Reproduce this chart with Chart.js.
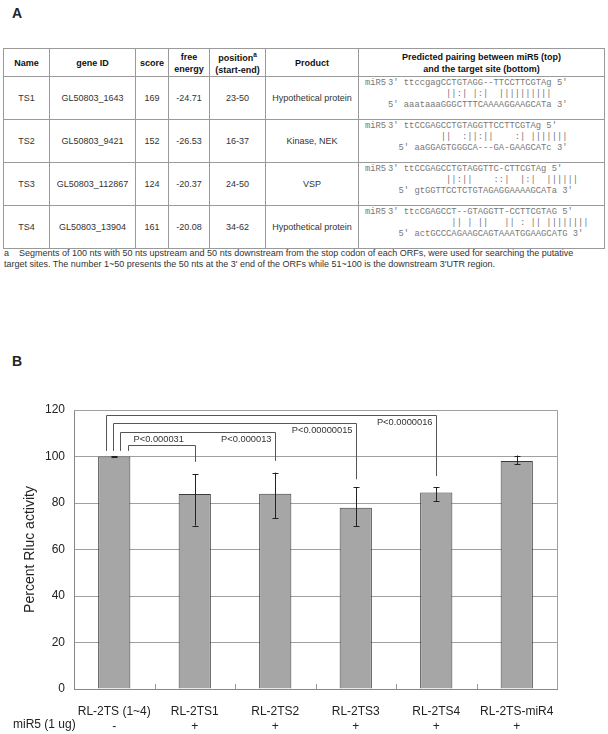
<!DOCTYPE html>
<html>
<head>
<meta charset="utf-8">
<script src="https://cdn.jsdelivr.net/npm/chart.js@4.4.1/dist/chart.umd.min.js"></script>
<style>
  html, body { margin: 0; padding: 0; background: #fff; }
  body { width: 608px; height: 734px; position: relative; overflow: hidden;
         font-family: "Liberation Sans", Arial, sans-serif; color: #222; }
  .panel { position: absolute; left: 12px; font-weight: bold; font-size: 14px; line-height: 14px; }
  #tbl { position: absolute; left: 3px; top: 48px; border-collapse: collapse; table-layout: fixed;
         width: 601px; font-size: 9px; }
  #tbl th, #tbl td { border: 1px solid #9a9a9a; text-align: center; padding: 0; vertical-align: middle; }
  #tbl th { height: 27px; line-height: 12px; font-weight: bold; color: #111; }
  #tbl td { height: 42px; color: #333; }
  #tbl td.pair { text-align: left; vertical-align: top; position: relative; }
  .seq { font-family: "Liberation Mono", "Courier New", monospace; font-size: 8.8px; color: #777;
         white-space: pre; line-height: 11px; padding-left: 29px; }
  .seq:first-child { margin-top: 1px; }
  .tag { position: absolute; left: 6px; }
  sup { font-size: 6.5px; vertical-align: 4px; }
  #note { position: absolute; left: 4px; top: 248px; font-size: 9px; line-height: 11px; color: #333; }
  #note div { white-space: pre; }
  #wrap { position: absolute; left: 0; top: 300px; width: 608px; height: 434px; }
</style>
</head>
<body>
<div class="panel" style="top:6px">A</div>
<table id="tbl">
  <colgroup>
    <col style="width:46px"><col style="width:86px"><col style="width:33px"><col style="width:41px">
    <col style="width:56px"><col style="width:93px"><col style="width:246px">
  </colgroup>
  <thead>
    <tr>
      <th>Name</th><th>gene ID</th><th>score</th><th>free<br>energy</th>
      <th>position<sup>a</sup><br>(start-end)</th><th>Product</th>
      <th>Predicted pairing between miR5 (top)<br>and the target site (bottom)</th>
    </tr>
  </thead>
  <tbody id="rows"></tbody>
</table>
<div id="note">
  <div>a    Segments of 100 nts with 50 nts upstream and 50 nts downstream from the stop codon of each ORFs, were used for searching the putative</div>
  <div>target sites. The number 1~50 presents the 50 nts at the 3' end of the ORFs while 51~100 is the downstream 3'UTR region.</div>
</div>
<div class="panel" style="top:354px">B</div>
<div id="wrap"><canvas id="chart" width="608" height="434"></canvas></div>

<script>
// Tabel A: target sites
const names = ["TS1", "TS2", "TS3", "TS4"];
const geneIds = ["GL50803_1643", "GL50803_9421", "GL50803_112867", "GL50803_13904"];
const scores = [169, 152, 124, 161];
const freeEnergy = ["-24.71", "-26.53", "-20.37", "-20.08"];
const positions = ["23-50", "16-37", "24-50", "34-62"];
const products = ["Hypothetical protein", "Kinase, NEK", "VSP", "Hypothetical protein"];
const pairTop = [
  "3' ttccgagCCTGTAGG--TTCCTTCGTAg 5'",
  "3' ttCCGAGCCTGTAGGTTCCTTCGTAg 5'",
  "3' ttCCGAGCCTGTAGGTTC-CTTCGTAg 5'",
  "3' ttcCGAGCCT--GTAGGTT-CCTTCGTAG 5'",
];
const pairMid = [
  "           ||:| |:|  ||||||||||",
  "          ||  :||:||    :| |||||||",
  "           ||:||    ::|  |:|  ||||||",
  "            || | ||   || : || ||||||||",
];
const pairBottom = [
  "5' aaataaaGGGCTTTCAAAAGGAAGCATa 3'",
  "  5' aaGGAGTGGGCA---GA-GAAGCATc 3'",
  "  5' gtGGTTCCTCTGTAGAGGAAAAGCATa 3'",
  "  5' actGCCCAGAAGCAGTAAATGGAAGCATG 3'",
];

// Grafik B: aktivitas Rluc
const labels = ["RL-2TS (1~4)", "RL-2TS1", "RL-2TS2", "RL-2TS3", "RL-2TS4", "RL-2TS-miR4"];
const miR5Row = ["-", "+", "+", "+", "+", "+"];
const activity = [100, 83.9, 84.0, 78.0, 84.5, 98.1];
const errLow = [99.8, 70.3, 73.4, 70.1, 80.9, 96.8];
const errHigh = [100.2, 92.4, 93.1, 86.9, 86.8, 100.4];
const pValues = ["P<0.0000016", "P<0.00000015", "P<0.000013", "P<0.000031"];
const compareTo = [4, 3, 2, 1];
const bracketLevel = [118.0, 114.4, 110.4, 104.9];
const bracketDrop = [91.6, 90.2, 98.1, 97.7];

// isi tabel
const tbody = document.getElementById("rows");
names.forEach((n, i) => {
  const tr = document.createElement("tr");
  [n, geneIds[i], scores[i], freeEnergy[i], positions[i], products[i]].forEach((v) => {
    const td = document.createElement("td");
    td.textContent = v;
    tr.appendChild(td);
  });
  const td = document.createElement("td");
  td.className = "pair";
  [pairTop[i], pairMid[i], pairBottom[i]].forEach((line, k) => {
    const d = document.createElement("div");
    d.className = "seq";
    d.textContent = line;
    if (k === 0) {
      const tag = document.createElement("span");
      tag.className = "tag";
      tag.textContent = "miR5";
      d.appendChild(tag);
    }
    td.appendChild(d);
  });
  tr.appendChild(td);
  tbody.appendChild(tr);
});

const font = "'Liberation Sans', Arial, sans-serif";

const extras = {
  id: "extras",
  afterDatasetsDraw(chart) {
    const ctx = chart.ctx;
    const x = chart.scales.x;
    const y = chart.scales.y;
    const area = chart.chartArea;
    ctx.save();

    // border kanan & atas
    ctx.strokeStyle = "#a0a0a0";
    ctx.lineWidth = 1;
    ctx.beginPath();
    ctx.moveTo(area.left, area.top + 0.5);
    ctx.lineTo(area.right + 0.5, area.top + 0.5);
    ctx.lineTo(area.right + 0.5, area.bottom);
    ctx.stroke();

    // tick kategori
    ctx.strokeStyle = "#999";
    for (let i = 1; i < labels.length; i++) {
      const px = Math.round(x.getPixelForValue(i - 0.5)) + 0.5;
      ctx.beginPath();
      ctx.moveTo(px, area.bottom - 5);
      ctx.lineTo(px, area.bottom);
      ctx.stroke();
    }

    // error bar
    const meta = chart.getDatasetMeta(0);
    ctx.strokeStyle = "#222";
    ctx.lineWidth = 1;
    meta.data.forEach((bar, i) => {
      const bx = Math.round(bar.x) + 0.5;
      const lo = y.getPixelForValue(errLow[i]);
      const hi = y.getPixelForValue(errHigh[i]);
      ctx.beginPath();
      ctx.moveTo(bx, lo);
      ctx.lineTo(bx, hi);
      ctx.moveTo(bx - 3, Math.round(lo) + 0.5);
      ctx.lineTo(bx + 3, Math.round(lo) + 0.5);
      ctx.moveTo(bx - 3, Math.round(hi) + 0.5);
      ctx.lineTo(bx + 3, Math.round(hi) + 0.5);
      ctx.stroke();
    });

    // bracket p-value
    const startOffset = [-0.1, -0.012, 0.075, 0.174];
    ctx.strokeStyle = "#555";
    ctx.fillStyle = "#333";
    ctx.font = "9.3px " + font;
    compareTo.forEach((to, k) => {
      const x0 = Math.round(x.getPixelForValue(startOffset[k])) + 0.5;
      const x1 = Math.round(x.getPixelForValue(to)) + 0.5;
      const yl = Math.round(y.getPixelForValue(bracketLevel[k])) + 0.5;
      ctx.beginPath();
      ctx.moveTo(x0, y.getPixelForValue(102.4));
      ctx.lineTo(x0, yl);
      ctx.lineTo(x1, yl);
      ctx.lineTo(x1, y.getPixelForValue(bracketDrop[k]));
      ctx.stroke();
      if (to === 1) {
        ctx.textAlign = "left";
        ctx.textBaseline = "bottom";
        ctx.fillText(pValues[k], x0 + 5, yl - 1);
      } else {
        ctx.textAlign = "right";
        ctx.textBaseline = "top";
        ctx.fillText(pValues[k], x1 - 4, yl + 2);
      }
    });

    // label baris miR5
    ctx.fillStyle = "#222";
    ctx.font = "12px " + font;
    ctx.textAlign = "left";
    ctx.textBaseline = "middle";
    ctx.fillText("miR5 (1 ug)", 13, x.top + 36);
    ctx.restore();
  },
};

new Chart(document.getElementById("chart"), {
  type: "bar",
  data: {
    labels: labels.map((l, i) => [l, miR5Row[i]]),
    datasets: [
      {
        data: activity,
        backgroundColor: "#a6a6a6",
        borderColor: "#3a3a3a",
        borderWidth: 1,
        borderSkipped: "bottom",
        barPercentage: 0.4,
        categoryPercentage: 1,
      },
    ],
  },
  options: {
    responsive: false,
    animation: false,
    layout: { padding: { top: 110, right: 51, left: 0, bottom: 0 } },
    plugins: { legend: { display: false }, tooltip: { enabled: false } },
    scales: {
      x: {
        grid: { display: false },
        border: { display: true, color: "#888", width: 1 },
        ticks: { color: "#222", font: { family: font, size: 12, lineHeight: 1.25 }, padding: 7, maxRotation: 0, autoSkip: false },
        afterFit: (s) => { s.height = 45; },
      },
      y: {
        min: 0,
        max: 120,
        grid: { color: "#a0a0a0", drawTicks: false },
        border: { display: true, color: "#888", width: 1 },
        ticks: { stepSize: 20, color: "#222", font: { family: font, size: 12 }, padding: 9 },
        title: { display: true, text: "Percent Rluc activity", color: "#222", font: { family: font, size: 14 }, padding: { top: 22, bottom: 0 } },
        afterFit: (s) => { s.width = 74; },
      },
    },
  },
  plugins: [extras],
});
</script>
</body>
</html>
